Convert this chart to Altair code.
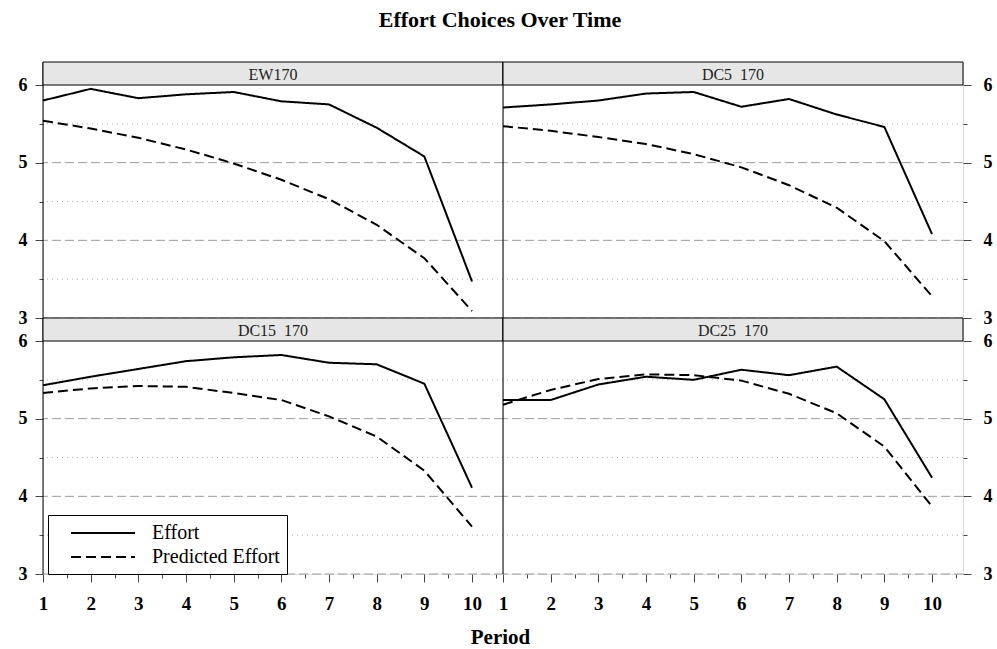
import altair as alt
import pandas as pd

# ---------------- data ----------------
periods = list(range(1, 11))
series = ["Effort", "Predicted Effort"]
panel_names = ["EW170", "DC5\u00a0\u00a0170", "DC15\u00a0\u00a0170", "DC25\u00a0\u00a0170"]

effort_ew170 = [5.80, 5.95, 5.83, 5.88, 5.91, 5.79, 5.75, 5.45, 5.08, 3.47]
pred_ew170 = [5.54, 5.44, 5.32, 5.17, 4.99, 4.78, 4.53, 4.20, 3.77, 3.09]
effort_dc5 = [5.71, 5.75, 5.80, 5.89, 5.91, 5.72, 5.82, 5.62, 5.46, 4.08]
pred_dc5 = [5.47, 5.41, 5.33, 5.24, 5.11, 4.94, 4.71, 4.42, 3.99, 3.28]
effort_dc15 = [5.43, 5.54, 5.64, 5.74, 5.79, 5.82, 5.72, 5.70, 5.45, 4.11]
pred_dc15 = [5.33, 5.39, 5.42, 5.41, 5.33, 5.24, 5.03, 4.77, 4.33, 3.61]
effort_dc25 = [5.24, 5.24, 5.44, 5.54, 5.50, 5.63, 5.56, 5.67, 5.25, 4.24]
pred_dc25 = [5.18, 5.37, 5.51, 5.57, 5.56, 5.49, 5.32, 5.07, 4.64, 3.87]

y_ticks = [3, 3.5, 4, 4.5, 5, 5.5, 6]
x_ticks = [1, 1.5, 2, 2.5, 3, 3.5, 4, 4.5, 5, 5.5, 6, 6.5, 7, 7.5, 8, 8.5, 9, 9.5, 10, 10.5]
major_grid = [3, 4, 5]
minor_grid = [3.5, 4.5, 5.5]

# ---------------- styling ----------------
FONT = "Liberation Serif"
W, H, STRIP = 460, 256, 23
Y_TOP = 6 + STRIP * 3 / (H - STRIP)
X_MAX = 10.65

xs = alt.Scale(domain=[1, X_MAX], nice=False, zero=False)
ys = alt.Scale(domain=[3, Y_TOP], nice=False, zero=False)
IS_INT = "datum.value % 1 == 0"
INT_LABEL = IS_INT + " ? format(datum.value, 'd') : ''"
TICK_SIZE = alt.condition(IS_INT, alt.value(8), alt.value(4))


def make_panel(name, eff, pred, yorient, show_x, show_legend, x_title=None):
    df = pd.DataFrame({
        "Period": periods * 2,
        "Value": eff + pred,
        "Series": [series[0]] * len(periods) + [series[1]] * len(periods),
    })
    if show_x:
        kw = dict(values=x_ticks, labelExpr=INT_LABEL, domain=False,
                  grid=False, ticks=True, tickSize=TICK_SIZE, tickColor="#444444",
                  labelFont=FONT, labelFontSize=19, labelFontWeight="bold",
                  labelColor="black", labelPadding=12, labelFlush=False)
        if x_title:
            kw.update(title=x_title, titleFont=FONT, titleFontSize=21,
                      titleFontWeight="bold", titleColor="black",
                      titleX=W - 3, titleAnchor="middle", titleAlign="center",
                      titlePadding=13)
        else:
            kw.update(title=None)
        xaxis = alt.Axis(**kw)
    else:
        xaxis = None
    yaxis = alt.Axis(orient=yorient, values=y_ticks, labelExpr=INT_LABEL, title=None,
                     domain=False, grid=False, tickSize=TICK_SIZE, tickColor="#444444",
                     labelFont=FONT, labelFontSize=18, labelFontWeight="bold",
                     labelColor="black", labelPadding=8 if yorient == "left" else 12,
                     labelFlush=False)
    if show_legend:
        legend = alt.Legend(title=None, orient="none", legendX=5, legendY=H - 2 - 57,
                            strokeColor="black", fillColor="white", padding=7,
                            symbolType="M0.5,0H6.9", symbolSize=400, symbolStrokeWidth=2,
                            symbolStrokeColor="black", labelFont=FONT, labelFontSize=20,
                            labelColor="black", labelOffset=75, rowPadding=3)
    else:
        legend = None

    grid_major = alt.Chart(pd.DataFrame({"g": major_grid})).mark_rule(
        color="#9c9c9c", strokeDash=[9, 4], strokeWidth=1
    ).encode(y=alt.Y("g:Q", scale=ys, axis=yaxis))
    grid_minor = alt.Chart(pd.DataFrame({"g": minor_grid})).mark_rule(
        color="#b4b4b4", strokeDash=[1, 4], strokeWidth=1
    ).encode(y=alt.Y("g:Q", scale=ys, axis=yaxis))

    strip_df = pd.DataFrame({"label": [name]})
    left_edge = alt.Chart(strip_df).mark_rule(color="black", strokeWidth=1).encode(
        x=alt.value(0), y=alt.value(0), y2=alt.value(H)
    )

    lines = alt.Chart(df).mark_line(color="black", strokeWidth=2).encode(
        x=alt.X("Period:Q", scale=xs, axis=xaxis),
        y=alt.Y("Value:Q", scale=ys, axis=yaxis),
        strokeDash=alt.StrokeDash("Series:N",
                                  scale=alt.Scale(domain=series, range=[[1, 0], [10, 5]]),
                                  legend=legend),
    )

    strip = alt.Chart(strip_df).mark_rect(fill="#e6e6e6", stroke="black", strokeWidth=1).encode(
        x=alt.value(0), x2=alt.value(W), y=alt.value(0), y2=alt.value(STRIP)
    )
    strip_text = alt.Chart(strip_df).mark_text(font=FONT, fontSize=16, color="#222222",
                                               baseline="middle").encode(
        x=alt.value(W / 2), y=alt.value(STRIP / 2 + 1), text="label:N"
    )

    return alt.layer(grid_major, grid_minor, left_edge, lines, strip, strip_text).properties(
        width=W, height=H
    )


tl = make_panel(panel_names[0], effort_ew170, pred_ew170, "left", False, False)
tr = make_panel(panel_names[1], effort_dc5, pred_dc5, "right", False, False)
bl = make_panel(panel_names[2], effort_dc15, pred_dc15, "left", True, True, x_title="Period")
br = make_panel(panel_names[3], effort_dc25, pred_dc25, "right", True, False)

chart = alt.concat(tl, tr, bl, br, columns=2, spacing=0,
                   bounds="flush").resolve_scale(
    strokeDash="independent").resolve_legend(strokeDash="independent").properties(
    title=alt.TitleParams("Effort Choices Over Time", anchor="middle", font=FONT,
                          fontSize=22, fontWeight="bold", color="black", offset=29, dx=-5),
    padding={"left": 17, "right": 2, "top": 9, "bottom": 0},
).configure_view(stroke="black", strokeWidth=1).configure(background="white")

chart.save("out.html", embed_options={"renderer": "svg", "actions": False})
